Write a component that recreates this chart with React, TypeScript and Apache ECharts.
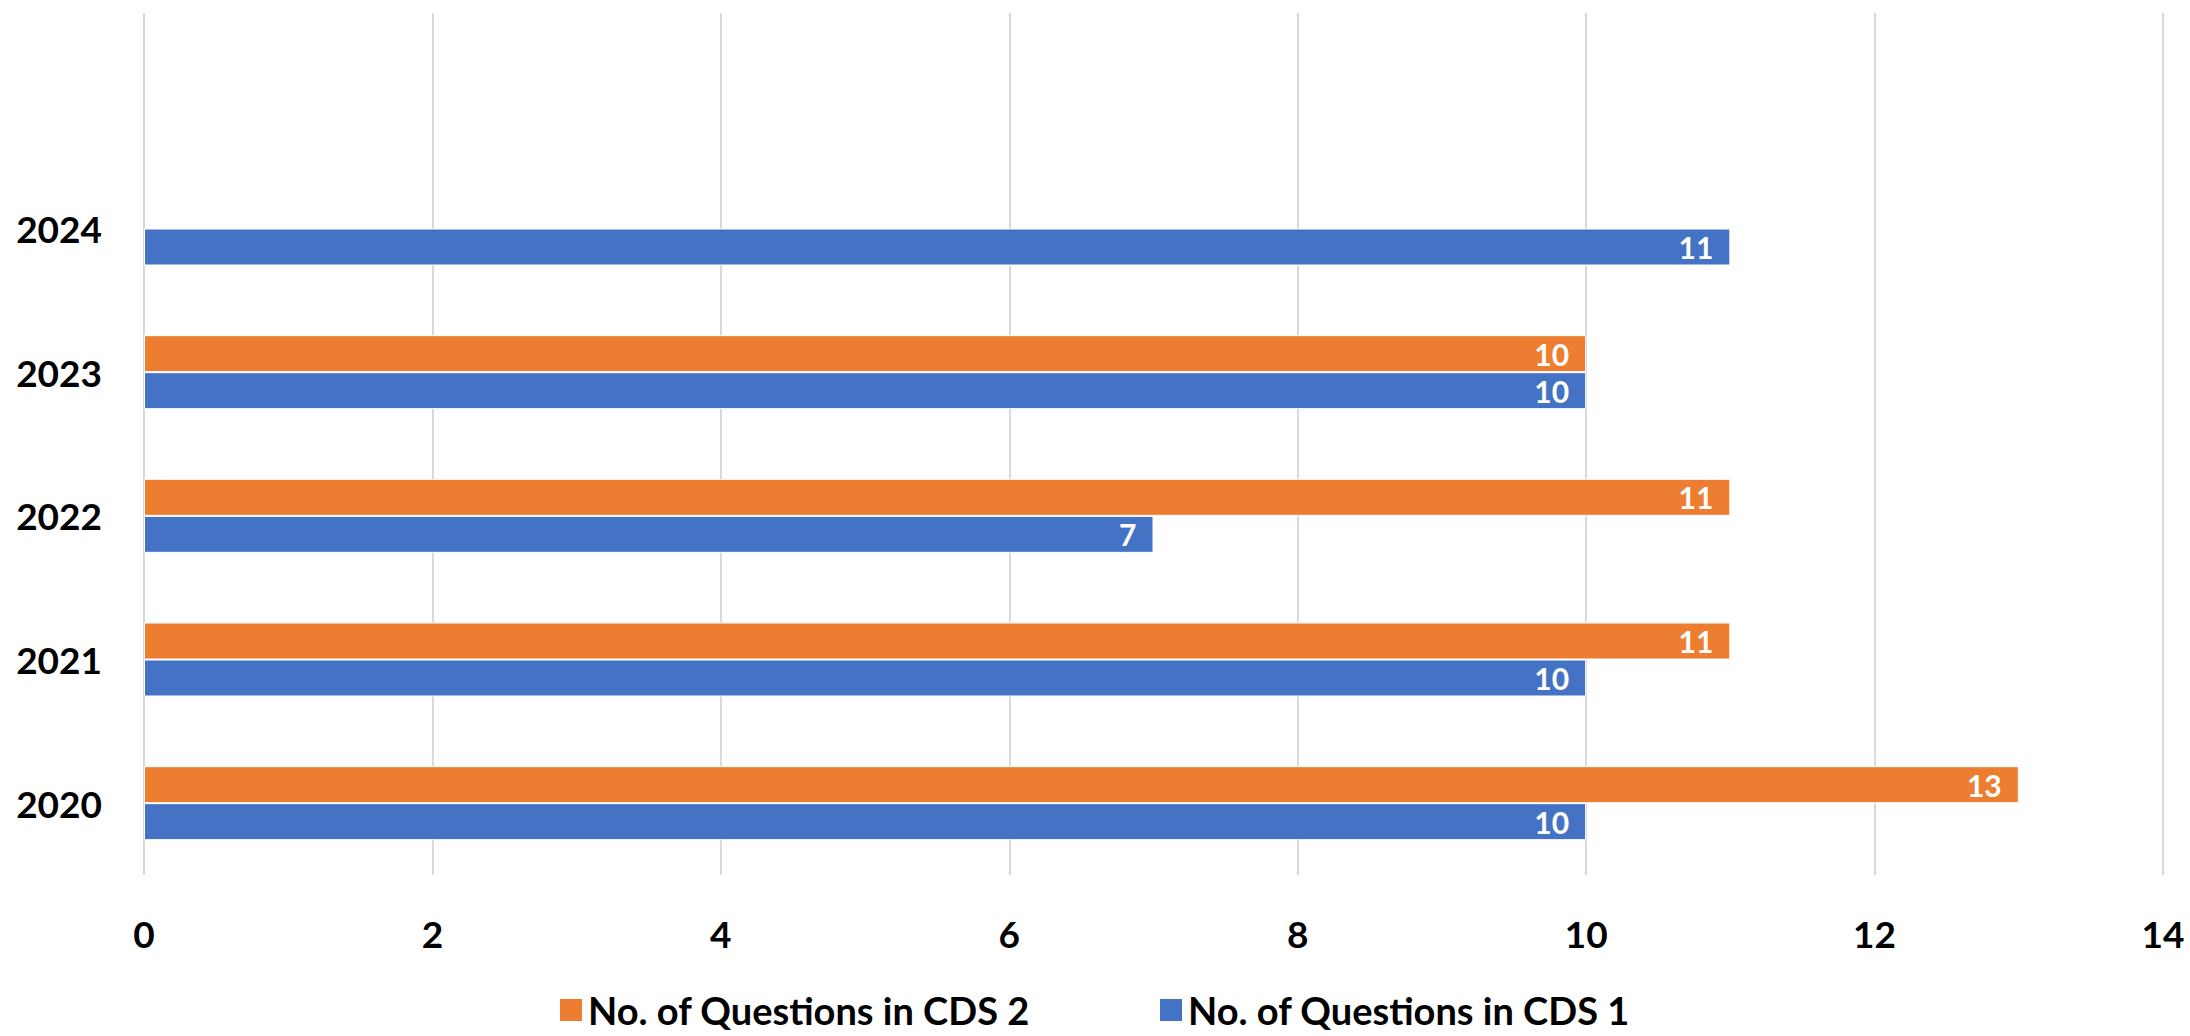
import React, { useEffect, useRef } from "react";
import * as echarts from "echarts";

const categories = ["2020", "2021", "2022", "2023", "2024", ""];
const cds1 = [10, 10, 7, 10, 11, null];
const cds2 = [13, 11, 11, 10, null, null];
const seriesNames = ["No. of Questions in CDS 2", "No. of Questions in CDS 1"];

const FONT = "Lato, 'Noto Sans', sans-serif";

export default function App() {
  const ref = useRef<HTMLDivElement>(null);
  useEffect(() => {
    document.body.style.margin = "0";
    if (!ref.current) return;
    const chart = echarts.init(ref.current, undefined, { renderer: "svg" });
    const label = {
      show: true,
      position: "insideRight",
      distance: 17,
      color: "#ffffff",
      fontWeight: "bold",
      fontSize: 30,
      fontFamily: FONT,
    };
    chart.setOption({
      animation: false,
      backgroundColor: "#ffffff",
      grid: { left: 144, right: 27, top: 13, bottom: 161, containLabel: false },
      legend: {
        data: seriesNames,
        left: 558,
        top: 990,
        padding: 0,
        itemWidth: 24,
        itemHeight: 24,
        itemGap: 128,
        icon: "rect",
        textStyle: { fontSize: 38, fontWeight: "bold", color: "#000", fontFamily: FONT, lineHeight: 40 },
      },
      xAxis: {
        type: "value",
        min: 0,
        max: 14,
        interval: 2,
        axisLine: { show: false },
        axisTick: { show: false },
        splitLine: { show: true, lineStyle: { color: "#d9d9d9", width: 2 } },
        axisLabel: { fontSize: 37, fontWeight: "bold", color: "#000", fontFamily: FONT, margin: 40 },
      },
      yAxis: {
        type: "category",
        data: categories,
        axisLine: { show: false },
        axisTick: { show: false },
        axisLabel: { fontSize: 37, fontWeight: "bold", color: "#000", fontFamily: FONT, margin: 42 },
      },
      series: [
        {
          name: seriesNames[0],
          type: "bar",
          data: cds2,
          barWidth: 37,
          barGap: "0%",
          itemStyle: { color: "#ED7D31", borderColor: "#ffffff", borderWidth: 1 },
          label,
        },
        {
          name: seriesNames[1],
          type: "bar",
          data: cds1,
          barWidth: 37,
          barGap: "0%",
          itemStyle: { color: "#4472C4", borderColor: "#ffffff", borderWidth: 1 },
          label,
        },
      ],
    });
    return () => chart.dispose();
  }, []);
  return <div ref={ref} style={{ width: 2190, height: 1036 }} />;
}
